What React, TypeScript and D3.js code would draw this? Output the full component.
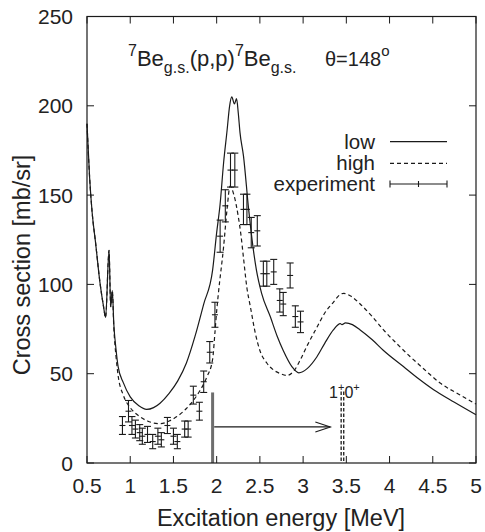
import React from 'react';
import * as d3 from 'd3';

const W = 485;
const H = 532;

const xTicks = [0.5, 1, 1.5, 2, 2.5, 3, 3.5, 4, 4.5, 5];
const yTicks = [0, 50, 100, 150, 200, 250];
const xTickLabels = ['0.5', '1', '1.5', '2', '2.5', '3', '3.5', '4', '4.5', '5'];
const yTickLabels = ['0', '50', '100', '150', '200', '250'];

// "low" calculation [E (MeV), sigma (mb/sr)]
const lowCurve: [number, number][] = [
  [0.5, 190], [0.53, 160], [0.56, 140], [0.6, 123], [0.65, 101], [0.69, 88], [0.715, 81.5],
  [0.755, 119], [0.774, 87.5], [0.793, 96.5], [0.81, 78], [0.835, 64], [0.86, 54], [0.92, 45],
  [1.0, 37], [1.1, 32], [1.19, 30], [1.27, 31], [1.345, 33.5], [1.45, 39], [1.55, 46], [1.65, 56],
  [1.75, 71], [1.85, 89], [1.953, 108], [2.0, 129], [2.04, 145], [2.08, 168], [2.12, 186],
  [2.15, 200], [2.175, 205], [2.205, 201], [2.23, 204], [2.25, 196], [2.27, 185], [2.31, 172],
  [2.37, 142], [2.42, 121], [2.46, 108], [2.52, 95], [2.62, 82], [2.7, 71], [2.77, 63],
  [2.87, 54], [2.95, 50.5], [3.05, 53], [3.16, 59.5], [3.25, 67], [3.35, 74.5], [3.43, 78],
  [3.45, 77.5], [3.49, 78.5], [3.57, 77.5], [3.66, 74.5], [3.8, 69], [3.93, 63], [4.16, 54],
  [4.34, 47], [4.51, 41], [4.75, 34], [5.0, 27],
];

// "high" calculation
const highCurve: [number, number][] = [
  [0.5, 190], [0.53, 160], [0.56, 140], [0.6, 123], [0.65, 101], [0.69, 88], [0.715, 81.5],
  [0.755, 119], [0.774, 87.5], [0.793, 96.5], [0.81, 76], [0.835, 60], [0.86, 49], [0.92, 38],
  [1.0, 31], [1.11, 26], [1.2, 23.5], [1.345, 22], [1.45, 23.5], [1.54, 26], [1.65, 30.5],
  [1.73, 35], [1.8, 40], [1.885, 48], [1.953, 58], [1.98, 73], [2.0, 85], [2.02, 95],
  [2.08, 121], [2.12, 142], [2.155, 155], [2.2, 150], [2.25, 138], [2.28, 128], [2.31, 115],
  [2.35, 98], [2.39, 87.5], [2.45, 72], [2.5, 63], [2.58, 56], [2.66, 52], [2.74, 50],
  [2.81, 49], [2.9, 52], [2.97, 58], [3.05, 66], [3.16, 76], [3.25, 84], [3.35, 90],
  [3.42, 94], [3.47, 95], [3.55, 93.5], [3.66, 89], [3.8, 82], [3.93, 74.5], [4.08, 67],
  [4.24, 59.5], [4.4, 52.5], [4.59, 44.6], [4.8, 38.5], [5.0, 33],
];

// experiment: E, sigma, error
const expE = [0.91, 0.98, 1.02, 1.06, 1.11, 1.14, 1.2, 1.26, 1.32, 1.36, 1.43, 1.5, 1.545, 1.63, 1.67,
  1.73, 1.8, 1.85, 1.92, 1.98, 2.04, 2.1, 2.16, 2.21, 2.31, 2.35, 2.4, 2.47, 2.54, 2.58, 2.66,
  2.73, 2.77, 2.85, 2.91, 2.97];
const expXS = [21, 29, 21, 19, 17, 15, 16, 12, 15, 13, 21, 15, 12, 19, 19,
  38, 29, 45.5, 62, 83, 127, 144, 164, 164, 142, 142, 129, 130, 106, 106, 107,
  91, 89, 105, 82, 79];
const expErr = [5, 6, 5, 5, 4.5, 4.5, 4.5, 4, 4.5, 4, 4.5, 4.5, 4, 4.5, 4.5,
  5, 5, 6, 6, 7, 9, 9, 9.5, 9.5, 8.5, 8.5, 8.5, 8.5, 7, 7, 7,
  6.5, 6.5, 7, 6, 6];

// annotations
const thresholdE = 1.953;
const thresholdTop = 39.5;
const levelE = [3.44, 3.47];
const levelTop = 40;
const levelLabelE = 3.3;
const levelLabelY = 36.4;
const arrowFromE = 1.96;
const arrowToE = 3.315;
const arrowY = 20.2;

const legendItems = ['low', 'high', 'experiment'];

const FONT = '"Liberation Sans", Arial, Helvetica, sans-serif';

export default function App() {
  const x = d3.scaleLinear().domain([0.5, 5]).range([87, 476]);
  const y = d3.scaleLinear().domain([0, 250]).range([463, 16.5]);
  const line = d3
    .line<[number, number]>()
    .x((d) => x(d[0]))
    .y((d) => y(d[1]))
    .curve(d3.curveMonotoneX);

  const x0 = x(0.5), x1 = x(5), y0 = y(0), y1 = y(250);
  const tl = 7;
  const stroke = '#1a1a1a';

  const ax = x(arrowToE);
  const ay = y(arrowY);

  return (
    <svg
      width={W}
      height={H}
      style={{ position: 'absolute', left: 0, top: 0, background: '#fff' }}
      fontFamily={FONT}
    >
      <rect x={0} y={0} width={W} height={H} fill="#fff" />

      {/* threshold line */}
      <line x1={x(thresholdE)} x2={x(thresholdE)} y1={y(thresholdTop)} y2={y0}
        stroke="#6e6e6e" strokeWidth={3} />
      {/* level lines */}
      {levelE.map((e, i) => (
        <line key={i} x1={x(e)} x2={x(e)} y1={y(levelTop)} y2={y0}
          stroke={stroke} strokeWidth={1.3} strokeDasharray="3.5,2" />
      ))}
      {/* arrow */}
      <line x1={x(arrowFromE) + 1} x2={ax} y1={ay} y2={ay} stroke={stroke} strokeWidth={1.1} />
      <path d={`M${ax - 15},${ay - 5} L${ax},${ay} L${ax - 15},${ay + 5}`} fill="none"
        stroke={stroke} strokeWidth={1.1} />
      <text x={x(levelLabelE)} y={y(levelLabelY)} fontSize={16} fill="#222">
        1<tspan dy={-7} fontSize={11}>+</tspan><tspan dy={7}>0</tspan><tspan dy={-7} fontSize={11}>+</tspan>
      </text>

      {/* curves */}
      <path d={line(lowCurve) || ''} fill="none" stroke={stroke} strokeWidth={1.2} />
      <path d={line(highCurve) || ''} fill="none" stroke={stroke} strokeWidth={1.2}
        strokeDasharray="4,3" />

      {/* experiment */}
      {expE.map((e, i) => {
        const cx = x(e);
        const cy = y(expXS[i]);
        const ylo = y(expXS[i] - expErr[i]);
        const yhi = y(expXS[i] + expErr[i]);
        return (
          <g key={i} stroke={stroke} strokeWidth={1.1}>
            <line x1={cx} x2={cx} y1={ylo} y2={yhi} />
            <line x1={cx - 3.5} x2={cx + 3.5} y1={ylo} y2={ylo} />
            <line x1={cx - 3.5} x2={cx + 3.5} y1={yhi} y2={yhi} />
            <line x1={cx - 3} x2={cx + 3} y1={cy} y2={cy} />
          </g>
        );
      })}

      {/* frame */}
      <rect x={x0} y={y1} width={x1 - x0} height={y0 - y1} fill="none" stroke={stroke} strokeWidth={1.2} />
      {xTicks.map((t, i) => (
        <g key={'xt' + i}>
          <line x1={x(t)} x2={x(t)} y1={y0} y2={y0 - tl} stroke={stroke} strokeWidth={1} />
          <line x1={x(t)} x2={x(t)} y1={y1} y2={y1 + tl} stroke={stroke} strokeWidth={1} />
          <text x={x(t)} y={493} textAnchor="middle" fontSize={21} fill="#222">{xTickLabels[i]}</text>
        </g>
      ))}
      {yTicks.map((t, i) => (
        <g key={'yt' + i}>
          <line x1={x0} x2={x0 + tl} y1={y(t)} y2={y(t)} stroke={stroke} strokeWidth={1} />
          <line x1={x1} x2={x1 - tl} y1={y(t)} y2={y(t)} stroke={stroke} strokeWidth={1} />
          <text x={73} y={y(t)} dy="0.36em" textAnchor="end" fontSize={21} fill="#222">{yTickLabels[i]}</text>
        </g>
      ))}

      {/* axis titles */}
      <text x={281} y={526} textAnchor="middle" fontSize={23.5} fill="#222">Excitation energy [MeV]</text>
      <text transform="translate(30,265) rotate(-90)" textAnchor="middle" fontSize={23.5} fill="#222">
        Cross section [mb/sr]
      </text>

      {/* title */}
      <text x={128} y={66} fontSize={22} fill="#222">
        <tspan fontSize={16} dy={-10}>7</tspan>
        <tspan dy={10}>Be</tspan>
        <tspan fontSize={16} dy={7}>g.s.</tspan>
        <tspan dy={-7}>(p,p)</tspan>
        <tspan fontSize={16} dy={-10}>7</tspan>
        <tspan dy={10}>Be</tspan>
        <tspan fontSize={16} dy={7}>g.s.</tspan>
      </text>
      <text x={325} y={66} fontSize={20} fill="#222">
        θ=148<tspan fontSize={15} dy={-10}>o</tspan>
      </text>

      {/* legend */}
      {legendItems.map((name, i) => {
        const ly = [141.7, 163.3, 184][i];
        return (
          <g key={name}>
            <text x={375} y={ly} dy="0.35em" textAnchor="end" fontSize={20.5} fill="#222">{name}</text>
            {i === 0 && <line x1={390} x2={447} y1={ly} y2={ly} stroke={stroke} strokeWidth={1.2} />}
            {i === 1 && <line x1={390} x2={447} y1={ly} y2={ly} stroke={stroke} strokeWidth={1.2} strokeDasharray="4,3" />}
            {i === 2 && (
              <g stroke={stroke} strokeWidth={1.1}>
                <line x1={390} x2={447} y1={ly} y2={ly} />
                <line x1={390} x2={390} y1={ly - 3.5} y2={ly + 3.5} />
                <line x1={447} x2={447} y1={ly - 3.5} y2={ly + 3.5} />
                <line x1={418.5} x2={418.5} y1={ly - 3} y2={ly + 3} />
              </g>
            )}
          </g>
        );
      })}
    </svg>
  );
}
